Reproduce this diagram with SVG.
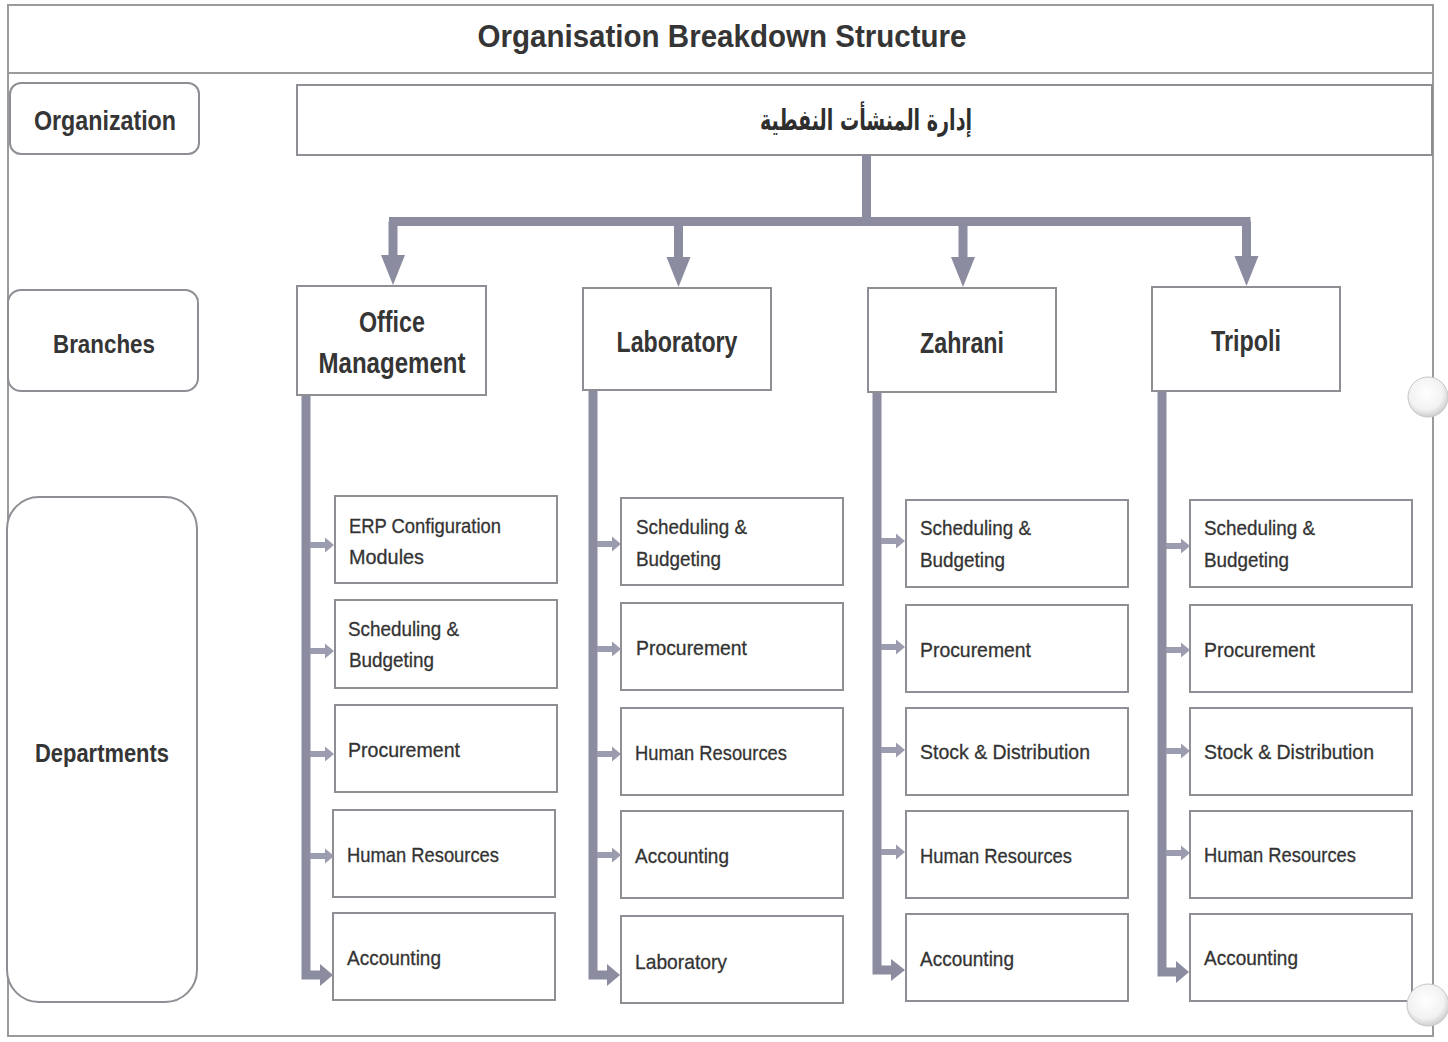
<svg xmlns="http://www.w3.org/2000/svg" xmlns:xlink="http://www.w3.org/1999/xlink" width="1448" height="1042" viewBox="0 0 1448 1042">
<style>
.frame{fill:none;stroke:#9a9a9a;stroke-width:2}
.box{fill:#fff;stroke:#8e8e94;stroke-width:2}
.lbl{fill:#fff;stroke:#8e8e94;stroke-width:2}
.title{font-family:"Liberation Sans",Arial,sans-serif;font-weight:bold;fill:#353535}
.br{font-family:"Liberation Sans",Arial,sans-serif;font-weight:bold;font-size:29px;fill:#353535;text-anchor:middle}
.side{font-family:"Liberation Sans",Arial,sans-serif;font-weight:bold;fill:#353535;text-anchor:middle}
.dep{font-family:"Liberation Sans",Arial,sans-serif;font-size:21px;fill:#333333;stroke:#333333;stroke-width:0.3}
.ar{font-family:"DejaVu Sans",sans-serif;font-weight:bold;font-size:29px;fill:#2e2e2e;text-anchor:middle}
.main{fill:none;stroke:#8c8ca0;stroke-width:9}
.mainh{fill:#8c8ca0}
.sm{fill:#9c9cb0}
</style>
<defs>
<path id="sa" d="M0,-3 H15 V-7.5 L24,0 L15,7.5 V3 H0 Z"/>
<radialGradient id="hole" cx="45%" cy="40%" r="60%">
<stop offset="0" stop-color="#ffffff"/>
<stop offset="0.7" stop-color="#f2f2f2"/>
<stop offset="1" stop-color="#cfcfcf"/>
</radialGradient>
</defs>
<rect width="1448" height="1042" fill="#fff"/>
<g id="frame">
<rect class="frame" x="8" y="5" width="1425" height="1031"/>
<line class="frame" x1="8" y1="73" x2="1433" y2="73"/>
</g>
<g id="title">
<text class="title" x="722" y="47" font-size="31" text-anchor="middle" textLength="489" lengthAdjust="spacingAndGlyphs">Organisation Breakdown Structure</text>
</g>
<g id="label-organization">
<rect class="lbl" x="10" y="83" width="189" height="71" rx="11"/>
<text class="side" x="105" y="130" font-size="28" textLength="142" lengthAdjust="spacingAndGlyphs">Organization</text>
</g>
<g id="label-branches">
<rect class="lbl" x="8" y="290" width="190" height="101" rx="13"/>
<text class="side" x="104" y="353" font-size="26" textLength="102" lengthAdjust="spacingAndGlyphs">Branches</text>
</g>
<g id="label-departments">
<rect class="lbl" x="7" y="497" width="190" height="505" rx="32"/>
<text class="side" x="102" y="762" font-size="26" textLength="134" lengthAdjust="spacingAndGlyphs">Departments</text>
</g>
<g id="org">
<rect class="box" x="297" y="85" width="1135" height="70"/>
<text class="ar" x="866" y="130" direction="rtl" textLength="212" lengthAdjust="spacingAndGlyphs">إدارة المنشأت النفطية</text>
</g>
<g id="connectors">
<path class="main" d="M866.5,155 V221.5 M389,221.5 H1250.5 M393,221.5 V258 M678.5,221.5 V258 M963,221.5 V258 M1246.5,221.5 V258"/>
<polygon class="mainh" points="381,255 405,255 393,285"/>
<polygon class="mainh" points="666.5,257 690.5,257 678.5,287"/>
<polygon class="mainh" points="951,257 975,257 963,287"/>
<polygon class="mainh" points="1234.5,256 1258.5,256 1246.5,286"/>
<path class="main" d="M306,395 V975 H322"/>
<polygon class="mainh" points="320,964 333,975 320,986"/>
<path class="main" d="M593,390 V975 H609"/>
<polygon class="mainh" points="607,964 620,975 607,986"/>
<path class="main" d="M877,392 V970 H893"/>
<polygon class="mainh" points="891,959 905,970 891,981"/>
<path class="main" d="M1162,391 V972 H1178"/>
<polygon class="mainh" points="1176,961 1189,972 1176,983"/>
<g class="sm">
<use xlink:href="#sa" x="310" y="545"/><use xlink:href="#sa" x="310" y="651"/><use xlink:href="#sa" x="310" y="754"/><use xlink:href="#sa" x="310" y="856"/>
<use xlink:href="#sa" x="597" y="544"/><use xlink:href="#sa" x="597" y="649"/><use xlink:href="#sa" x="597" y="754"/><use xlink:href="#sa" x="597" y="855"/>
<use xlink:href="#sa" x="881" y="541"/><use xlink:href="#sa" x="881" y="647"/><use xlink:href="#sa" x="881" y="750"/><use xlink:href="#sa" x="881" y="852"/>
<use xlink:href="#sa" x="1166" y="546"/><use xlink:href="#sa" x="1166" y="650"/><use xlink:href="#sa" x="1166" y="751"/><use xlink:href="#sa" x="1166" y="853"/>
</g>
</g>
<g id="branch-office">
<rect class="box" x="297" y="286" width="189" height="109"/>
<text class="br" x="392" y="332" textLength="66" lengthAdjust="spacingAndGlyphs">Office</text>
<text class="br" x="392" y="373" textLength="147" lengthAdjust="spacingAndGlyphs">Management</text>
</g>
<g id="branch-laboratory">
<rect class="box" x="583" y="288" width="188" height="102"/>
<text class="br" x="677" y="352" textLength="121" lengthAdjust="spacingAndGlyphs">Laboratory</text>
</g>
<g id="branch-zahrani">
<rect class="box" x="868" y="288" width="188" height="104"/>
<text class="br" x="962" y="353" textLength="84" lengthAdjust="spacingAndGlyphs">Zahrani</text>
</g>
<g id="branch-tripoli">
<rect class="box" x="1152" y="287" width="188" height="104"/>
<text class="br" x="1246" y="351" textLength="70" lengthAdjust="spacingAndGlyphs">Tripoli</text>
</g>
<g id="office-erp"><rect class="box" x="335" y="496" width="222" height="87"/>
<text class="dep" x="349" y="533" textLength="152" lengthAdjust="spacingAndGlyphs">ERP Configuration</text>
<text class="dep" x="349" y="564" textLength="75" lengthAdjust="spacingAndGlyphs">Modules</text></g>
<g id="office-sched"><rect class="box" x="335" y="600" width="222" height="88"/>
<text class="dep" x="348" y="636" textLength="111" lengthAdjust="spacingAndGlyphs">Scheduling &amp;</text>
<text class="dep" x="349" y="667" textLength="85" lengthAdjust="spacingAndGlyphs">Budgeting</text></g>
<g id="office-proc"><rect class="box" x="335" y="705" width="222" height="87"/>
<text class="dep" x="348" y="757" textLength="112" lengthAdjust="spacingAndGlyphs">Procurement</text></g>
<g id="office-hr"><rect class="box" x="333" y="810" width="222" height="87"/>
<text class="dep" x="347" y="862" textLength="152" lengthAdjust="spacingAndGlyphs">Human Resources</text></g>
<g id="office-acc"><rect class="box" x="333" y="913" width="222" height="87"/>
<text class="dep" x="347" y="965" textLength="94" lengthAdjust="spacingAndGlyphs">Accounting</text></g>
<g id="lab-sched"><rect class="box" x="621" y="498" width="222" height="87"/>
<text class="dep" x="636" y="534" textLength="111" lengthAdjust="spacingAndGlyphs">Scheduling &amp;</text>
<text class="dep" x="636" y="566" textLength="85" lengthAdjust="spacingAndGlyphs">Budgeting</text></g>
<g id="lab-proc"><rect class="box" x="621" y="603" width="222" height="87"/>
<text class="dep" x="636" y="655" textLength="111" lengthAdjust="spacingAndGlyphs">Procurement</text></g>
<g id="lab-hr"><rect class="box" x="621" y="708" width="222" height="87"/>
<text class="dep" x="635" y="760" textLength="152" lengthAdjust="spacingAndGlyphs">Human Resources</text></g>
<g id="lab-acc"><rect class="box" x="621" y="811" width="222" height="87"/>
<text class="dep" x="635" y="863" textLength="94" lengthAdjust="spacingAndGlyphs">Accounting</text></g>
<g id="lab-lab"><rect class="box" x="621" y="916" width="222" height="87"/>
<text class="dep" x="635" y="969" textLength="92" lengthAdjust="spacingAndGlyphs">Laboratory</text></g>
<g id="zah-sched"><rect class="box" x="906" y="500" width="222" height="87"/>
<text class="dep" x="920" y="535" textLength="111" lengthAdjust="spacingAndGlyphs">Scheduling &amp;</text>
<text class="dep" x="920" y="567" textLength="85" lengthAdjust="spacingAndGlyphs">Budgeting</text></g>
<g id="zah-proc"><rect class="box" x="906" y="605" width="222" height="87"/>
<text class="dep" x="920" y="657" textLength="111" lengthAdjust="spacingAndGlyphs">Procurement</text></g>
<g id="zah-stock"><rect class="box" x="906" y="708" width="222" height="87"/>
<text class="dep" x="920" y="759" textLength="170" lengthAdjust="spacingAndGlyphs">Stock &amp; Distribution</text></g>
<g id="zah-hr"><rect class="box" x="906" y="811" width="222" height="87"/>
<text class="dep" x="920" y="863" textLength="152" lengthAdjust="spacingAndGlyphs">Human Resources</text></g>
<g id="zah-acc"><rect class="box" x="906" y="914" width="222" height="87"/>
<text class="dep" x="920" y="966" textLength="94" lengthAdjust="spacingAndGlyphs">Accounting</text></g>
<g id="tri-sched"><rect class="box" x="1190" y="500" width="222" height="87"/>
<text class="dep" x="1204" y="535" textLength="111" lengthAdjust="spacingAndGlyphs">Scheduling &amp;</text>
<text class="dep" x="1204" y="567" textLength="85" lengthAdjust="spacingAndGlyphs">Budgeting</text></g>
<g id="tri-proc"><rect class="box" x="1190" y="605" width="222" height="87"/>
<text class="dep" x="1204" y="657" textLength="111" lengthAdjust="spacingAndGlyphs">Procurement</text></g>
<g id="tri-stock"><rect class="box" x="1190" y="708" width="222" height="87"/>
<text class="dep" x="1204" y="759" textLength="170" lengthAdjust="spacingAndGlyphs">Stock &amp; Distribution</text></g>
<g id="tri-hr"><rect class="box" x="1190" y="811" width="222" height="87"/>
<text class="dep" x="1204" y="862" textLength="152" lengthAdjust="spacingAndGlyphs">Human Resources</text></g>
<g id="tri-acc"><rect class="box" x="1190" y="914" width="222" height="87"/>
<text class="dep" x="1204" y="965" textLength="94" lengthAdjust="spacingAndGlyphs">Accounting</text></g>
<g id="holes">
<circle cx="1428" cy="397" r="20" fill="url(#hole)" stroke="#c8c8c8" stroke-width="1"/>
<circle cx="1428" cy="1005" r="21" fill="url(#hole)" stroke="#c8c8c8" stroke-width="1"/>
</g>
</svg>
